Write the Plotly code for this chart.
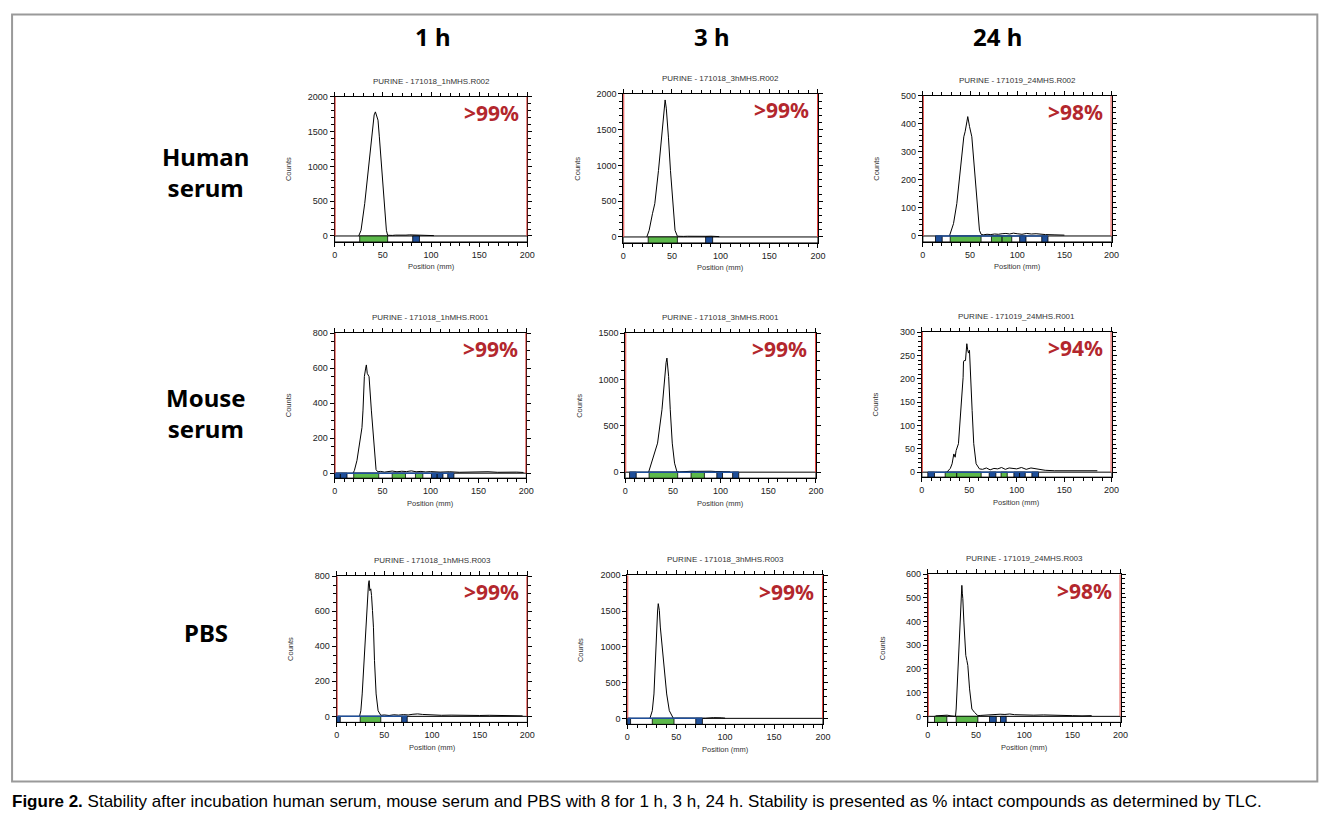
import plotly.graph_objects as go

# ---------------- data
conditions = ["Human<br>serum", "Mouse<br>serum", "PBS"]
times = ["1 h", "3 h", "24 h"]

run_names = [
    "PURINE - 171018_1hMHS.R002", "PURINE - 171018_3hMHS.R002", "PURINE - 171019_24MHS.R002",
    "PURINE - 171018_1hMHS.R001", "PURINE - 171018_3hMHS.R001", "PURINE - 171019_24MHS.R001",
    "PURINE - 171018_1hMHS.R003", "PURINE - 171018_3hMHS.R003", "PURINE - 171019_24MHS.R003",
]
stability = [">99%", ">99%", ">98%", ">99%", ">99%", ">94%", ">99%", ">99%", ">98%"]
y_max = [2000, 2000, 500, 800, 1500, 300, 800, 2000, 600]
y_major = [500, 500, 100, 200, 500, 50, 200, 500, 100]
y_minor = [100, 100, 20, 50, 100, 10, 50, 100, 20]

# human serum
pos_h1 = [25, 27.4, 31.2, 34.7, 38.1, 39.9, 41, 42.3, 43.5, 45, 46.4, 48.9, 51.3, 53.7, 55, 57,
          60, 63, 66, 70, 74, 78, 82, 86, 90, 94, 98, 103]
cnt_h1 = [0, 82, 465, 945, 1425, 1665, 1740, 1784, 1730, 1665, 1425, 945, 465, 82, 10, 5,
          8, 12, 10, 14, 12, 16, 15, 18, 14, 12, 9, 5]
pos_h3 = [24.2, 26.6, 30, 32.4, 36.2, 39.2, 41.5, 43, 44.2, 45.4, 46.4, 48.5, 50.9, 53.2, 55.6,
          58, 62, 66, 70, 75, 80, 85, 90, 95, 98.6]
cnt_h3 = [0, 93, 325, 465, 930, 1395, 1750, 1915, 1800, 1627, 1395, 930, 465, 93, 10,
          6, 8, 10, 8, 12, 10, 9, 11, 8, 5]
pos_h24 = [28.2, 32.5, 36, 39.9, 43.4, 44.8, 45.9, 46.8, 47.6, 48.4, 49.5, 51.9, 54.7, 57.1, 60,
           61.7, 64, 68, 72, 76, 80, 84, 88, 92, 96, 100, 105, 110, 115, 120, 125, 130, 140, 150]
cnt_h24 = [0, 44, 116, 235, 354, 372, 402, 410, 426, 415, 390, 354, 235, 116, 20,
           6, 4, 6, 5, 7, 6, 8, 9, 7, 10, 8, 6, 9, 7, 8, 6, 5, 4, 3]

# mouse serum
pos_m1 = [19.2, 20.6, 23.3, 25.8, 26.8, 28.5, 29.6, 31, 32.4, 33.1, 34, 35.9, 38.3, 40.8, 43.2,
          45, 48, 52, 56, 60, 65, 70, 75, 80, 85, 90, 95, 100, 110, 120, 130, 140, 150, 160,
          170, 180, 190, 197]
cnt_m1 = [0, 15, 73, 168, 207, 260, 360, 551, 600, 618, 570, 551, 360, 168, 20,
          8, 10, 6, 9, 12, 8, 11, 9, 13, 8, 10, 7, 9, 6, 8, 5, 7, 6, 8, 5, 7, 6, 4]
pos_m3 = [24.5, 26.2, 29.7, 33.9, 38.5, 41.3, 42.8, 43.7, 44.6, 45.5, 47.2, 49.3, 51.7, 54.2,
          57, 60, 65, 70, 75, 80, 85, 90, 95, 100, 105, 110]
cnt_m3 = [0, 61, 169, 313, 673, 1032, 1180, 1230, 1150, 1032, 673, 313, 97, 5,
          3, 6, 8, 10, 9, 11, 8, 10, 7, 6, 5, 3]
pos_m24 = [26.3, 30, 31.9, 33.7, 35.1, 36.1, 38.6, 41.4, 43.5, 43.9, 44.6, 46, 47.4, 48.3, 49.2,
           50.2, 51.2, 53, 54.7, 57.2, 60.7, 64, 68, 72, 76, 80, 84, 88, 92, 96, 100, 105, 110,
           115, 120, 125, 130, 140, 150, 160, 170, 185]
cnt_m24 = [0, 8, 18, 39, 32, 46, 61, 132, 203, 236, 239, 239, 275, 262, 255,
           261, 203, 132, 61, 18, 7, 6, 9, 5, 8, 7, 10, 6, 9, 8, 7, 10, 6,
           9, 7, 5, 4, 3, 3, 2, 2, 3]

# PBS
pos_p1 = [24, 25.4, 26.8, 28.9, 30.6, 32.3, 33.4, 34.1, 34.8, 35.8, 36.6, 37.6, 38.6, 39.7, 41.4,
          43.5, 46.3, 50, 55, 60, 65, 70, 75, 80, 85, 90, 95, 100, 110, 120, 130, 140, 150, 160,
          170, 180, 190, 195]
cnt_p1 = [0, 32, 128, 318, 509, 697, 756, 775, 718, 728, 690, 604, 509, 318, 128,
          32, 6, 8, 5, 9, 7, 10, 8, 12, 14, 11, 9, 8, 6, 7, 5, 6, 5, 6, 4, 5, 4, 3]
pos_p3 = [23.2, 25.6, 27.3, 28.7, 29.7, 31, 31.7, 32.3, 32.8, 33.8, 36.9, 40.3, 43, 47.1, 50,
          55, 60, 70, 80, 88, 92, 96, 100]
cnt_p3 = [0, 107, 341, 808, 1276, 1500, 1603, 1540, 1509, 1276, 808, 341, 107, 0, 3,
          2, 4, 3, 2, 10, 12, 8, 3]
pos_p24 = [8, 12, 16, 20, 24, 28.7, 29.4, 30.4, 32.2, 33.6, 34.6, 35.3, 35.8, 36.3, 37.4, 39.4,
           40.5, 41.5, 43.3, 45.7, 48.4, 51.9, 55, 60, 65, 70, 75, 80, 85, 90, 95, 100, 110, 120,
           130, 140, 150, 160, 170]
cnt_p24 = [2, 4, 3, 5, 2, 0, 31, 116, 257, 398, 500, 553, 520, 497, 398, 257,
           236, 215, 116, 31, 17, 3, 4, 6, 5, 7, 9, 8, 10, 7, 6, 8, 5, 6,
           4, 3, 3, 2, 3]

# integration regions (start mm, end mm, kind) drawn in the strip under the baseline
reg_h1 = [(26, 55, "g"), (81, 88, "b")]
reg_h3 = [(25.6, 55.6, "g"), (84.6, 91.8, "b")]
reg_h24 = [(13.4, 20.5, "b"), (29, 61.7, "g"), (72.7, 84, "g"), (84, 94.2, "g"),
           (102.6, 109.3, "b"), (126, 132.6, "b")]
reg_m1 = [(0, 6, "b"), (6, 12.9, "b"), (19.9, 46, "g"), (60, 73.9, "g"), (84.3, 92, "g"),
          (101, 107, "b"), (107, 113, "b"), (118, 124.4, "b")]
reg_m3 = [(4.5, 11.5, "b"), (25, 55, "g"), (69, 83, "g"), (96, 102, "b"), (112.6, 119, "b")]
reg_m24 = [(6.3, 13.3, "b"), (24.6, 36.8, "g"), (36.8, 62.5, "g"), (71, 78, "b"),
           (83.5, 90, "g"), (97, 103, "b"), (103, 109, "b"), (116, 123, "b")]
reg_p1 = [(0, 3.8, "b"), (24.7, 46.3, "g"), (68.2, 74, "b")]
reg_p3 = [(0, 3.4, "b"), (25.6, 47.8, "g"), (70, 76.8, "b")]
reg_p24 = [(6.9, 19.7, "g"), (29.4, 51.9, "g"), (64, 71, "b"), (75.4, 81.3, "b")]
blue_top = [False, False, True, True, True, True, True, True, False]

positions = [pos_h1, pos_h3, pos_h24, pos_m1, pos_m3, pos_m24, pos_p1, pos_p3, pos_p24]
counts = [cnt_h1, cnt_h3, cnt_h24, cnt_m1, cnt_m3, cnt_m24, cnt_p1, cnt_p3, cnt_p24]
regions = [reg_h1, reg_h3, reg_h24, reg_m1, reg_m3, reg_m24, reg_p1, reg_p3, reg_p24]

# ---------------- layout in window pixels: left, top, right, bottom of strip, y of zero
# measured: the page shows the graph ~10px right, ~13px down and very slightly shrunk
SCALE, PX0, PY0 = 0.993, 10.0, 13.3
W, H = 1320, 806
boxes = [
    (334, 97, 527, 242, 236), (623, 94, 818, 243, 237), (923, 96, 1112, 242, 236),
    (334, 333, 526, 478, 473), (625, 333, 816, 478, 472), (922, 332, 1112, 477, 472),
    (336, 576, 527, 722, 716), (627, 575, 823, 724, 718), (928, 574, 1121, 722, 716),
]
col_x = [432, 712, 998]
row_y = [172, 413, 632]

GREEN = "#5cb84a"
BLUE = "#1f4f9a"
RED_LINE = "#e0403c"
RED_TEXT = "#b3272d"
TICK_FONT = dict(family="Liberation Sans", size=9, color="#222")
SMALL_FONT = dict(family="Liberation Sans", size=7.5, color="#333")


def px(x):
    return (x / SCALE - PX0) / W


def py(y):
    return 1 - (y / SCALE - PY0) / H


fig = go.Figure()
shapes = []
annotations = []

for i in range(9):
    n = "" if i == 0 else str(i + 1)
    xa, ya = "x" + n, "y" + n
    l, t, r, b, z = boxes[i]
    ymin = -(b - z) / (z - t) * y_max[i]

    fig.add_trace(go.Scatter(
        x=positions[i], y=counts[i], xaxis=xa, yaxis=ya,
        mode="lines", line=dict(color="black", width=1),
        showlegend=False, hoverinfo="skip"
    ))

    common = dict(
        showline=True, linecolor="black", linewidth=1, mirror="ticks",
        ticks="outside", ticklen=4, tickwidth=1, tickcolor="black",
        showgrid=False, zeroline=False, tickfont=TICK_FONT,
    )
    fig.update_layout(**{
        "xaxis" + n: dict(
            domain=[px(l), px(r)], anchor=ya, range=[0, 200],
            tickvals=list(range(0, 201, 50)),
            minor=dict(tickvals=list(range(0, 201, 10)), ticks="outside",
                       ticklen=3, tickcolor="black"),
            **common),
        "yaxis" + n: dict(
            domain=[py(b), py(t)], anchor=xa, range=[ymin, y_max[i]],
            tickvals=list(range(0, y_max[i] + 1, y_major[i])),
            minor=dict(tickvals=list(range(0, y_max[i] + 1, y_minor[i])),
                       ticks="outside", ticklen=3, tickcolor="black"),
            **common),
    })

    # strip of regions under the baseline
    shapes.append(dict(type="rect", xref=xa, yref=ya, x0=0, x1=200, y0=ymin, y1=0,
                       fillcolor="white", line=dict(color="black", width=1), layer="below"))
    for s, e, k in regions[i]:
        shapes.append(dict(type="rect", xref=xa, yref=ya, x0=s, x1=e, y0=ymin, y1=0,
                           fillcolor=GREEN if k == "g" else BLUE,
                           line=dict(color="black", width=0.8)))
    if blue_top[i]:
        s0 = min(s for s, e, k in regions[i])
        e0 = max(e for s, e, k in regions[i])
        shapes.append(dict(type="line", xref=xa, yref=ya, x0=s0, x1=e0, y0=0, y1=0,
                           line=dict(color=BLUE, width=1.5)))
    # red limit lines
    for xv in (0, 200):
        shapes.append(dict(type="line", xref=xa, yref=ya, x0=xv, x1=xv, y0=0, y1=y_max[i],
                           line=dict(color=RED_LINE, width=2)))

    annotations.append(dict(text=run_names[i], xref=xa + " domain", yref=ya + " domain",
                            x=0.5, y=1, yshift=9, xanchor="center", yanchor="bottom",
                            showarrow=False, font=dict(family="Liberation Sans", size=8,
                                                       color="#333")))
    annotations.append(dict(text="<b>" + stability[i] + "</b>", xref=xa + " domain",
                            yref=ya + " domain", x=0.965, y=0.89, xanchor="right",
                            yanchor="middle", showarrow=False,
                            font=dict(family="Noto Sans", size=21, color=RED_TEXT)))
    annotations.append(dict(text="Counts", xref=xa + " domain", yref=ya + " domain",
                            x=0, xshift=-46, y=0.5, xanchor="center", yanchor="middle",
                            textangle=-90, showarrow=False, font=SMALL_FONT))
    annotations.append(dict(text="Position (mm)", xref=xa + " domain", yref=ya + " domain",
                            x=0.5, y=0, yshift=-25, xanchor="center", yanchor="middle",
                            showarrow=False, font=SMALL_FONT))

# column and row headers
for j, tlabel in enumerate(times):
    annotations.append(dict(text="<b>" + tlabel + "</b>", xref="paper", yref="paper",
                            x=px(col_x[j]), y=py(37), xanchor="center", yanchor="middle",
                            showarrow=False,
                            font=dict(family="Noto Sans", size=24, color="black")))
for j, c in enumerate(conditions):
    annotations.append(dict(text="<b>" + c + "</b>", xref="paper", yref="paper",
                            x=px(205), y=py(row_y[j]), xanchor="center", yanchor="middle",
                            showarrow=False,
                            font=dict(family="Noto Sans", size=24, color="black")))

annotations.append(dict(
    text="<b>Figure 2.</b> Stability after incubation human serum, mouse serum and PBS with 8 "
         "for 1 h, 3 h, 24 h. Stability is presented as % intact compounds as determined by TLC.",
    xref="paper", yref="paper", x=px(9), y=py(801), xanchor="left", yanchor="middle",
    showarrow=False, font=dict(family="Liberation Sans", size=17, color="black")))

# outer frame (its top edge sits at the very top of the graph)
shapes.append(dict(type="rect", xref="paper", yref="paper", x0=px(11), x1=px(1318),
                   y0=py(781), y1=min(py(12), 1 - 1.5 / H),
                   line=dict(color="#9a9a9a", width=2)))

fig.update_layout(
    width=W, height=H,
    margin=dict(l=0, r=0, t=0, b=0),
    paper_bgcolor="white", plot_bgcolor="white",
    shapes=shapes, annotations=annotations,
    showlegend=False,
)

fig.write_html("out.html")
